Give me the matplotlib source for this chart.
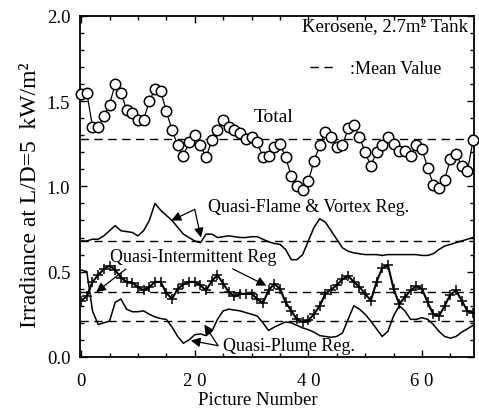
import numpy as np
import matplotlib.pyplot as plt
from matplotlib.ticker import MultipleLocator

plt.rcParams['font.family'] = ['Liberation Serif', 'DejaVu Serif']

# picture number 0..69
pic = np.arange(70)

total = [1.54, 1.55, 1.35, 1.35, 1.41, 1.48, 1.60, 1.55, 1.45, 1.43,
         1.39, 1.39, 1.50, 1.57, 1.56, 1.44, 1.33, 1.24, 1.18, 1.26,
         1.30, 1.24, 1.17, 1.27, 1.33, 1.39, 1.35, 1.33, 1.31, 1.28,
         1.29, 1.26, 1.17, 1.18, 1.23, 1.25, 1.17, 1.06, 1.00, 0.98,
         1.03, 1.15, 1.24, 1.32, 1.29, 1.23, 1.24, 1.34, 1.36, 1.29,
         1.20, 1.12, 1.20, 1.24, 1.29, 1.25, 1.21, 1.21, 1.18, 1.24,
         1.22, 1.11, 1.01, 0.99, 1.04, 1.16, 1.19, 1.12, 1.09, 1.27]

flame = [0.68, 0.68, 0.69, 0.69, 0.71, 0.74, 0.77, 0.74, 0.735, 0.73,
         0.71, 0.74, 0.80, 0.90, 0.86, 0.83, 0.80, 0.76, 0.72, 0.70,
         0.68, 0.67, 0.72, 0.72, 0.70, 0.705, 0.71, 0.705, 0.70, 0.70,
         0.705, 0.705, 0.69, 0.675, 0.665, 0.66, 0.63, 0.57, 0.57, 0.60,
         0.68, 0.76, 0.81, 0.79, 0.74, 0.69, 0.64, 0.62, 0.61, 0.605,
         0.60, 0.60, 0.60, 0.595, 0.60, 0.60, 0.60, 0.60, 0.60, 0.60,
         0.595, 0.595, 0.605, 0.63, 0.65, 0.66, 0.67, 0.68, 0.69, 0.70]

intermittent = [0.33, 0.355, 0.44, 0.48, 0.515, 0.535, 0.51, 0.465, 0.44, 0.435,
                0.41, 0.39, 0.41, 0.44, 0.44, 0.375, 0.34, 0.40, 0.425, 0.44,
                0.44, 0.42, 0.39, 0.445, 0.48, 0.43, 0.38, 0.355, 0.37, 0.37,
                0.37, 0.34, 0.315, 0.39, 0.43, 0.40, 0.32, 0.27, 0.22, 0.205,
                0.215, 0.25, 0.30, 0.37, 0.395, 0.42, 0.455, 0.475, 0.44, 0.41,
                0.37, 0.33, 0.44, 0.52, 0.54, 0.40, 0.31, 0.35, 0.39, 0.415,
                0.40, 0.32, 0.25, 0.24, 0.30, 0.365, 0.39, 0.33, 0.27, 0.26]

plume = [0.51, 0.50, 0.27, 0.19, 0.20, 0.21, 0.32, 0.34, 0.28, 0.265,
         0.265, 0.27, 0.25, 0.235, 0.225, 0.22, 0.175, 0.12, 0.08, 0.10,
         0.13, 0.135, 0.125, 0.15, 0.22, 0.27, 0.28, 0.275, 0.27, 0.26,
         0.25, 0.24, 0.20, 0.155, 0.175, 0.19, 0.205, 0.20, 0.185, 0.17,
         0.16, 0.145, 0.125, 0.12, 0.115, 0.12, 0.14, 0.22, 0.30, 0.28,
         0.25, 0.21, 0.165, 0.12, 0.15, 0.24, 0.30, 0.27, 0.22, 0.22,
         0.23, 0.22, 0.19, 0.15, 0.12, 0.11, 0.12, 0.145, 0.165, 0.185]

# mean values
means = [1.28, 0.68, 0.38, 0.21]

fig = plt.figure(figsize=(4.79, 4.10), dpi=100)
ax = fig.add_axes([0.167, 0.127, 0.823, 0.832])

dash = (0, (6, 4))
for i, m in enumerate(means):
    ax.axhline(m, color='k', lw=1.0, ls=dash,
               label=':Mean Value' if i == 0 else None)

ax.plot(pic, total, color='k', lw=0.9, marker='o', ms=7.5,
        mfc='white', mec='k', mew=1.1, clip_on=False, zorder=4)
ax.plot(pic, flame, color='k', lw=1.1)
ax.plot(pic, intermittent, color='k', lw=1.5, marker='+', ms=7, mew=1.1)
ax.plot(pic, plume, color='k', lw=1.1)

ax.set_xlim(-0.2, 69.2)
ax.set_ylim(0, 2.0)
ax.xaxis.set_major_locator(MultipleLocator(20))
ax.xaxis.set_minor_locator(MultipleLocator(5))
ax.yaxis.set_major_locator(MultipleLocator(0.5))
ax.yaxis.set_minor_locator(MultipleLocator(0.1))
ax.set_xticks([0, 20, 40, 60])
ax.set_xticklabels(['0', '2 0', '4 0', '6 0'])
ax.set_yticks([0, 0.5, 1.0, 1.5, 2.0])
ax.set_yticklabels(['0.0', '0.5', '1.0', '1.5', '2.0'])
ax.tick_params(which='both', direction='in', top=True, right=True,
               labelsize=13.5, width=1)
ax.tick_params(which='major', length=5)
ax.tick_params(which='minor', length=3)
ax.tick_params(axis='x', pad=11)
ax.tick_params(axis='y', pad=7)
for s in ax.spines.values():
    s.set_linewidth(1.3)

ax.set_xlabel('Picture Number', fontsize=13.5)
ax.xaxis.set_label_coords(0.452, -0.1)
ax.set_ylabel('Irradiance at L/D=5  kW/m\u00b2', fontsize=17)
ax.yaxis.set_label_coords(-0.1, 0.478)

ax.text(33.9, 1.41, 'Total', fontsize=14, ha='center', va='center')
ax.text(68.1, 1.94, 'Kerosene, 2.7m\u00b2 Tank', fontsize=13.5, ha='right', va='center')
ax.legend(loc='upper right', bbox_to_anchor=(0.948, 0.907), frameon=False,
          fontsize=13, handlelength=1.5, handletextpad=0.7, borderpad=0.2)

ap = dict(arrowstyle='-|>', color='k', lw=0.9, mutation_scale=14,
          shrinkA=0, shrinkB=0)
ax.text(22.3, 0.88, 'Quasi-Flame & Vortex Reg.', fontsize=13, va='center')
ax.annotate('', xy=(15.9, 0.80), xytext=(20.0, 0.865), arrowprops=ap)
ax.annotate('', xy=(21.1, 0.70), xytext=(20.0, 0.865), arrowprops=ap)

ax.text(5.0, 0.59, 'Quasi-Intermittent Reg', fontsize=13, va='center')
ax.annotate('', xy=(2.65, 0.38), xytext=(7.9, 0.516), arrowprops=ap)
ax.annotate('', xy=(32.6, 0.418), xytext=(26.7, 0.516), arrowprops=ap)

ax.text(24.9, 0.065, 'Quasi-Plume Reg.', fontsize=13, va='center')
ax.annotate('', xy=(19.3, 0.096), xytext=(24.1, 0.066), arrowprops=ap)
ax.annotate('', xy=(21.7, 0.19), xytext=(24.1, 0.066), arrowprops=ap)

fig.savefig('out.png', dpi=100)
